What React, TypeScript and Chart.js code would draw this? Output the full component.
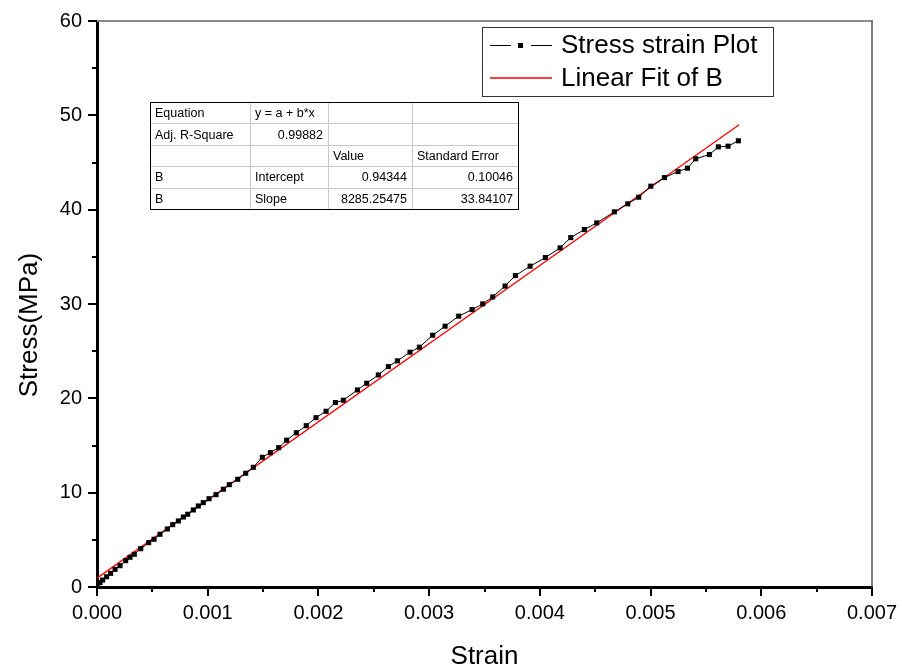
import React, { useEffect, useRef } from "react";
import { Chart, registerables } from "chart.js";

Chart.register(...registerables);

const strain = [
  0, 0.000027, 0.000051, 0.000087, 0.000123, 0.000163, 0.000208, 0.000259, 0.000298, 0.000337,
  0.000395, 0.000467, 0.000515, 0.000569, 0.000635, 0.000684, 0.000735, 0.00078, 0.000819, 0.00087,
  0.000915, 0.00096, 0.001012, 0.001075, 0.001141, 0.001195, 0.001271, 0.001343, 0.001412, 0.001493,
  0.001566, 0.001641, 0.001713, 0.0018, 0.00189, 0.001978, 0.002069, 0.002153, 0.002225, 0.002352,
  0.002436, 0.002541, 0.002632, 0.002713, 0.002827, 0.002912, 0.003032, 0.003144, 0.003267, 0.003388,
  0.003484, 0.003574, 0.003686, 0.003779, 0.003912, 0.00405, 0.004183, 0.004279, 0.004402, 0.004514,
  0.004673, 0.004794, 0.004893, 0.005002, 0.005125, 0.005248, 0.005333, 0.005408, 0.005531, 0.005612,
  0.0057, 0.005793,
];
const stress = [
  0, 0.46, 0.74, 1.09, 1.45, 1.87, 2.26, 2.79, 3.15, 3.47,
  4.06, 4.7, 5.06, 5.59, 6.15, 6.61, 7.0, 7.42, 7.71, 8.17,
  8.59, 8.94, 9.36, 9.79, 10.36, 10.85, 11.42, 12.06, 12.69, 13.75,
  14.24, 14.77, 15.56, 16.35, 17.1, 17.95, 18.63, 19.55, 19.8, 20.89,
  21.6, 22.48, 23.36, 23.97, 24.89, 25.42, 26.69, 27.65, 28.71, 29.41,
  30.01, 30.75, 31.9, 33.01, 34.01, 34.92, 35.95, 37.04, 37.89, 38.6,
  39.77, 40.62, 41.32, 42.49, 43.4, 44.04, 44.4, 45.39, 45.84, 46.66,
  46.73, 47.3,
];

const fitIntercept = 0.94344;
const fitSlope = 8285.25475;
const fitRange = [0, 0.0058];

const xTicks = [0, 0.001, 0.002, 0.003, 0.004, 0.005, 0.006, 0.007];
const yTicks = [0, 10, 20, 30, 40, 50, 60];

const seriesNames = ["Stress strain Plot", "Linear Fit of B"];
const tableRows = [
  ["Equation", "y = a + b*x", "", ""],
  ["Adj. R-Square", "0.99882", "", ""],
  ["", "", "Value", "Standard Error"],
  ["B", "Intercept", "0.94344", "0.10046"],
  ["B", "Slope", "8285.25475", "33.84107"],
];

const FONT = "'Liberation Sans', Arial, sans-serif";

const decorPlugin = {
  id: "decor",
  afterDraw(chart: any) {
    const ctx = chart.ctx as CanvasRenderingContext2D;
    const { left, right, top, bottom } = chart.chartArea;
    const xs = chart.scales.x;
    const ys = chart.scales.y;
    ctx.save();
    // top & right frame
    ctx.strokeStyle = "#8a8a8a";
    ctx.lineWidth = 2;
    ctx.beginPath();
    ctx.moveTo(left, top);
    ctx.lineTo(right + 1, top);
    ctx.stroke();
    ctx.strokeStyle = "#555";
    ctx.lineWidth = 1.5;
    ctx.beginPath();
    ctx.moveTo(right, top);
    ctx.lineTo(right, bottom);
    ctx.stroke();

    // ticks
    ctx.strokeStyle = "#000";
    ctx.lineWidth = 2;
    for (let i = 0; i < xTicks.length; i++) {
      const px = Math.round(xs.getPixelForValue(xTicks[i]));
      ctx.beginPath();
      ctx.moveTo(px, bottom);
      ctx.lineTo(px, bottom + 9);
      ctx.stroke();
      if (i < xTicks.length - 1) {
        const mx = Math.round(xs.getPixelForValue((xTicks[i] + xTicks[i + 1]) / 2));
        ctx.beginPath();
        ctx.moveTo(mx, bottom);
        ctx.lineTo(mx, bottom + 5);
        ctx.stroke();
      }
    }
    for (let i = 0; i < yTicks.length; i++) {
      const py = Math.round(ys.getPixelForValue(yTicks[i]));
      ctx.beginPath();
      ctx.moveTo(left, py);
      ctx.lineTo(left - 9, py);
      ctx.stroke();
      if (i < yTicks.length - 1) {
        const my = Math.round(ys.getPixelForValue((yTicks[i] + yTicks[i + 1]) / 2));
        ctx.beginPath();
        ctx.moveTo(left, my);
        ctx.lineTo(left - 5, my);
        ctx.stroke();
      }
    }

    // axis titles
    ctx.fillStyle = "#000";
    ctx.font = `26px ${FONT}`;
    ctx.textAlign = "center";
    ctx.textBaseline = "middle";
    ctx.fillText("Strain", (left + right) / 2, 657);
    ctx.save();
    ctx.translate(30, 325);
    ctx.rotate(-Math.PI / 2);
    ctx.fillText("Stress(MPa)", 0, 0);
    ctx.restore();

    // legend
    const lx0 = 482, ly0 = 27, lx1 = 773, ly1 = 96;
    ctx.fillStyle = "#fff";
    ctx.fillRect(lx0, ly0, lx1 - lx0, ly1 - ly0);
    ctx.strokeStyle = "#333";
    ctx.lineWidth = 1;
    ctx.strokeRect(lx0 + 0.5, ly0 + 0.5, lx1 - lx0, ly1 - ly0);
    const r1 = 45, r2 = 78;
    ctx.strokeStyle = "#000";
    ctx.lineWidth = 1;
    ctx.beginPath();
    ctx.moveTo(490, r1 + 0.5);
    ctx.lineTo(511, r1 + 0.5);
    ctx.moveTo(531, r1 + 0.5);
    ctx.lineTo(552, r1 + 0.5);
    ctx.stroke();
    ctx.fillStyle = "#000";
    ctx.fillRect(518, r1 - 2, 5, 5);
    ctx.strokeStyle = "#ff0000";
    ctx.lineWidth = 1.5;
    ctx.beginPath();
    ctx.moveTo(490, r2);
    ctx.lineTo(552, r2);
    ctx.stroke();
    ctx.fillStyle = "#000";
    ctx.font = `26px ${FONT}`;
    ctx.textAlign = "left";
    ctx.textBaseline = "middle";
    ctx.fillText(seriesNames[0], 561, r1 + 1);
    ctx.fillText(seriesNames[1], 561, r2 + 1);

    // fit table
    const cols = [150, 250, 328, 412, 518];
    const rows = [102, 123.4, 144.8, 166.2, 187.6, 209];
    ctx.fillStyle = "#fff";
    ctx.fillRect(cols[0], rows[0], cols[4] - cols[0], rows[5] - rows[0]);
    ctx.strokeStyle = "#c8c8c8";
    ctx.lineWidth = 1;
    for (let i = 1; i < rows.length - 1; i++) {
      ctx.beginPath();
      ctx.moveTo(cols[0], Math.round(rows[i]) + 0.5);
      ctx.lineTo(cols[4], Math.round(rows[i]) + 0.5);
      ctx.stroke();
    }
    for (let j = 1; j < cols.length - 1; j++) {
      ctx.beginPath();
      ctx.moveTo(cols[j] + 0.5, rows[0]);
      ctx.lineTo(cols[j] + 0.5, rows[5]);
      ctx.stroke();
    }
    ctx.strokeStyle = "#000";
    ctx.strokeRect(cols[0] + 0.5, rows[0] + 0.5, cols[4] - cols[0], rows[5] - rows[0]);
    ctx.fillStyle = "#000";
    ctx.font = `12.5px ${FONT}`;
    ctx.textBaseline = "middle";
    for (let i = 0; i < tableRows.length; i++) {
      const cy = (rows[i] + rows[i + 1]) / 2 + 1;
      for (let j = 0; j < 4; j++) {
        const t = tableRows[i][j];
        if (!t) continue;
        const numeric = /^[0-9.]+$/.test(t);
        if (numeric) {
          ctx.textAlign = "right";
          ctx.fillText(t, cols[j + 1] - 5, cy);
        } else {
          ctx.textAlign = "left";
          ctx.fillText(t, cols[j] + 5, cy);
        }
      }
    }
    ctx.restore();
  },
};

export default function App() {
  const ref = useRef<HTMLCanvasElement | null>(null);
  useEffect(() => {
    if (!ref.current) return;
    const points = strain.map((x, i) => ({ x, y: stress[i] }));
    const fit = fitRange.map((x) => ({ x, y: fitIntercept + fitSlope * x }));
    const chart = new Chart(ref.current, {
      type: "scatter",
      data: {
        datasets: [
          {
            label: seriesNames[1],
            data: fit,
            showLine: true,
            borderColor: "#ff0000",
            borderWidth: 1.3,
            pointRadius: 0,
            order: 1,
          },
          {
            label: seriesNames[0],
            data: points,
            showLine: true,
            borderColor: "#000",
            borderWidth: 1,
            pointStyle: "rect",
            pointRadius: 3.6,
            pointBackgroundColor: "#000",
            pointBorderColor: "#000",
            pointBorderWidth: 0,
            order: 0,
          },
        ],
      },
      options: {
        animation: false,
        responsive: false,
        layout: { padding: { left: 0, top: 21, right: 30, bottom: 0 } },
        plugins: { legend: { display: false }, tooltip: { enabled: false } },
        scales: {
          x: {
            type: "linear",
            min: 0,
            max: 0.007,
            afterFit: (s: any) => {
              s.height = 85;
              s.paddingLeft = 0;
              s.paddingRight = 0;
              s.paddingTop = 0;
              s.paddingBottom = 0;
            },
            afterBuildTicks: (s: any) => {
              s.ticks = xTicks.map((v) => ({ value: v }));
            },
            ticks: {
              padding: 14,
              color: "#000",
              font: { family: FONT, size: 20 },
              callback: (v: any) => Number(v).toFixed(3),
              maxRotation: 0,
            },
            grid: { drawOnChartArea: false, drawTicks: false },
            border: { display: true, color: "#000", width: 3 },
          },
          y: {
            type: "linear",
            min: 0,
            max: 60,
            afterFit: (s: any) => {
              s.width = 97;
              s.paddingLeft = 0;
              s.paddingRight = 0;
              s.paddingTop = 0;
              s.paddingBottom = 0;
            },
            afterBuildTicks: (s: any) => {
              s.ticks = yTicks.map((v) => ({ value: v }));
            },
            ticks: {
              padding: 15,
              color: "#000",
              font: { family: FONT, size: 20 },
              callback: (v: any) => String(v),
            },
            grid: { drawOnChartArea: false, drawTicks: false },
            border: { display: true, color: "#000", width: 3 },
          },
        },
      },
      plugins: [decorPlugin],
    });
    return () => chart.destroy();
  }, []);
  return (
    <div style={{ position: "fixed", left: 0, top: 0, width: 902, height: 672, background: "#fff" }}>
      <canvas ref={ref} width={902} height={672} />
    </div>
  );
}
